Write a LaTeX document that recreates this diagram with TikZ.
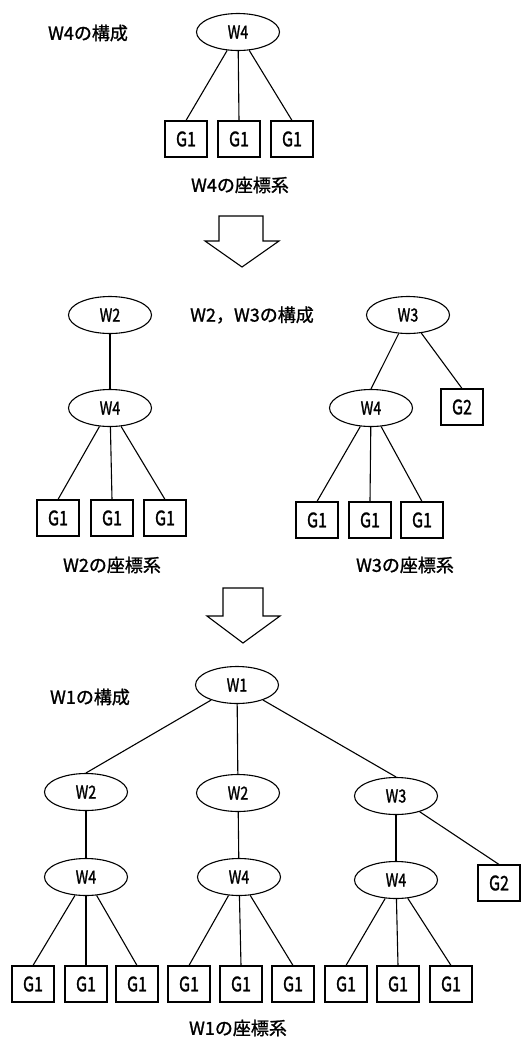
\documentclass[tikz,border=0pt]{standalone}
\usepackage{fontspec}
\setmainfont{Noto Sans CJK JP}[FakeBold=1.2]
\newfontfamily\gfont{Noto Sans CJK JP}[FakeStretch=0.8, FakeBold=1.2]
\usetikzlibrary{shapes.geometric}

\begin{document}
\begin{tikzpicture}[x=1pt, y=-1pt, line width=1.1pt,
  wnode/.style={draw, ellipse, minimum width=83pt, minimum height=37pt, inner sep=0pt,
    font=\gfont\fontsize{18}{20}\selectfont},
  gnode/.style={draw, rectangle, minimum width=42pt, minimum height=36pt, inner sep=0pt,
    font=\gfont\fontsize{20}{22}\selectfont},
  caption/.style={font=\fontsize{18}{20}\selectfont},
  bigarrow/.style={draw, line width=1.1pt, line join=miter}]
\useasboundingbox (0,0) rectangle (528,1039);

% W4 の構成
\node[caption] (capw4) at (88,33) {W4の構成};
\node[wnode] (w4) at (238,32) {W4};
\node[gnode] (w4g1a) at (186,139) {G1};
\node[gnode] (w4g1b) at (239,139) {G1};
\node[gnode] (w4g1c) at (292,139) {G1};
\draw (w4) -- (w4g1a.north);
\draw (w4) -- (w4g1b.north);
\draw (w4) -- (w4g1c.north);
\node[caption] (sysw4) at (240,185) {W4の座標系};

% 矢印
\draw[bigarrow] (219,216) -- ++(44,0) -- ++(0,25) -- ++(16,0) -- (242,267)
  -- (205,241) -- ++(14,0) -- cycle;

% W2, W3 の構成
\node[caption] (capw23) at (252,315) {W2，W3の構成};
\node[wnode] (w2) at (110,315) {W2};
\node[wnode] (w2w4) at (110,408) {W4};
\node[gnode] (w2g1a) at (58,518) {G1};
\node[gnode] (w2g1b) at (112,518) {G1};
\node[gnode] (w2g1c) at (165,518) {G1};
\draw (w2) -- (w2w4);
\draw (w2w4) -- (w2g1a.north);
\draw (w2w4) -- (w2g1b.north);
\draw (w2w4) -- (w2g1c.north);
\node[caption] (sysw2) at (112,565) {W2の座標系};

\node[wnode] (w3) at (408,315) {W3};
\node[wnode] (w3w4) at (371,408) {W4};
\node[gnode] (w3g2) at (462,407) {G2};
\node[gnode] (w3g1a) at (317,520) {G1};
\node[gnode] (w3g1b) at (370,520) {G1};
\node[gnode] (w3g1c) at (422,520) {G1};
\draw (w3) -- (w3w4.north);
\draw (w3) -- (w3g2.north);
\draw (w3w4) -- (w3g1a.north);
\draw (w3w4) -- (w3g1b.north);
\draw (w3w4) -- (w3g1c.north);
\node[caption] (sysw3) at (405,565) {W3の座標系};

% 矢印
\draw[bigarrow] (223,588) -- ++(40,0) -- ++(0,28) -- ++(17,0) -- (243,643)
  -- (207,616) -- ++(16,0) -- cycle;

% W1 の構成
\node[caption] (capw1) at (90,697) {W1の構成};
\node[wnode] (w1) at (237,685) {W1};
\node[wnode] (w1w2a) at (86,792) {W2};
\node[wnode] (w1w2b) at (238,793) {W2};
\node[wnode] (w1w3) at (396,796) {W3};
\node[wnode] (w1w4a) at (86,877) {W4};
\node[wnode] (w1w4b) at (239,877) {W4};
\node[wnode] (w1w4c) at (396,880) {W4};
\node[gnode] (w1g2) at (499,883) {G2};
\draw (w1) -- (w1w2a.north);
\draw (w1) -- (w1w2b);
\draw (w1) -- (w1w3.north);
\draw (w1w2a) -- (w1w4a);
\draw (w1w2b) -- (w1w4b);
\draw (w1w3) -- (w1w4c);
\draw (w1w3) -- (w1g2.north);
\node[gnode] (w1g1a) at (33,984) {G1};
\node[gnode] (w1g1b) at (86,984) {G1};
\node[gnode] (w1g1c) at (137,984) {G1};
\node[gnode] (w1g1d) at (189,984) {G1};
\node[gnode] (w1g1e) at (241,984) {G1};
\node[gnode] (w1g1f) at (293,984) {G1};
\node[gnode] (w1g1g) at (346,984) {G1};
\node[gnode] (w1g1h) at (398,984) {G1};
\node[gnode] (w1g1i) at (451,984) {G1};
\draw (w1w4a) -- (w1g1a.north);
\draw (w1w4a) -- (w1g1b.north);
\draw (w1w4a) -- (w1g1c.north);
\draw (w1w4b) -- (w1g1d.north);
\draw (w1w4b) -- (w1g1e.north);
\draw (w1w4b) -- (w1g1f.north);
\draw (w1w4c) -- (w1g1g.north);
\draw (w1w4c) -- (w1g1h.north);
\draw (w1w4c) -- (w1g1i.north);
\node[caption] (sysw1) at (238,1028) {W1の座標系};
\end{tikzpicture}
\end{document}
